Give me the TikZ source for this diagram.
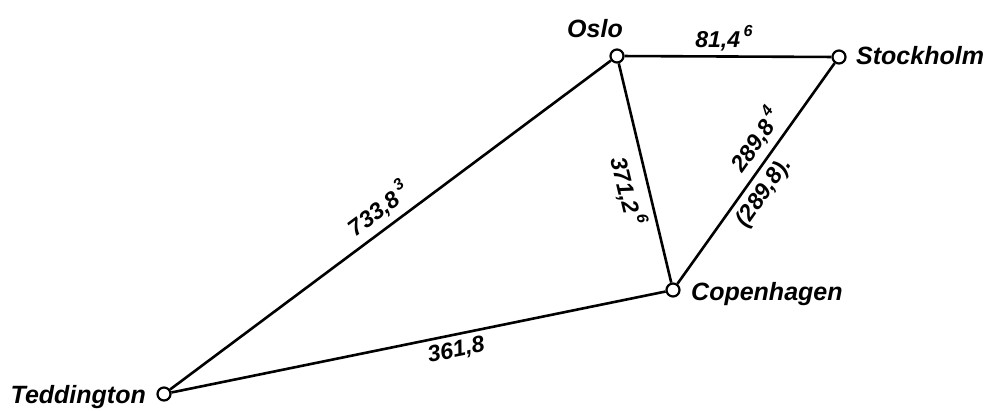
\documentclass[tikz,border=0pt]{standalone}
\usepackage{fontspec}
\setmainfont{Liberation Sans}
\newcommand{\supr}[1]{\kern0.15em\raisebox{0.5em}{\fontsize{16}{16}\selectfont #1}}
\begin{document}
\begin{tikzpicture}[x=1pt,y=-1pt,
  city/.style={circle,draw,line width=2.2pt,minimum size=13pt,inner sep=0pt,fill=white},
  link/.style={line width=2.6pt},
  cityname/.style={font=\fontsize{25}{25}\selectfont\bfseries\itshape,inner sep=0pt},
  dist/.style={font=\fontsize{23}{23}\selectfont\bfseries\itshape,inner sep=6pt,sloped}]
\useasboundingbox (0,0) rectangle (987,410);
\node[city] (O) at (617,56) {};
\node[city] (S) at (839,57) {};
\node[city] (C) at (673,290) {};
\node[city] (T) at (164,394) {};
\draw[link] (T) -- node[dist,above,pos=0.5] {733,8\supr{3}} (O);
\draw[link] (O) -- node[dist,above,pos=0.48,inner sep=4pt] {81,4\supr{6}} (S);
\draw[link] (O) -- node[dist,below,pos=0.56] {371,2\supr{6}} (C);
\draw[link] (C) -- node[dist,above,pos=0.6] {289,8\supr{4}} node[dist,below,pos=0.46] {(289,8).} (S);
\draw[link] (T) -- node[dist,below,pos=0.57,inner sep=5pt] {361,8} (C);
\node[cityname,anchor=base] (on) at (595,37) {Oslo};
\node[cityname,anchor=base west] (sn) at (856,64) {Stockholm};
\node[cityname,anchor=base west] (cn) at (691,300) {Copenhagen};
\node[cityname,anchor=base east] (tn) at (146,403) {Teddington};
\end{tikzpicture}
\end{document}
